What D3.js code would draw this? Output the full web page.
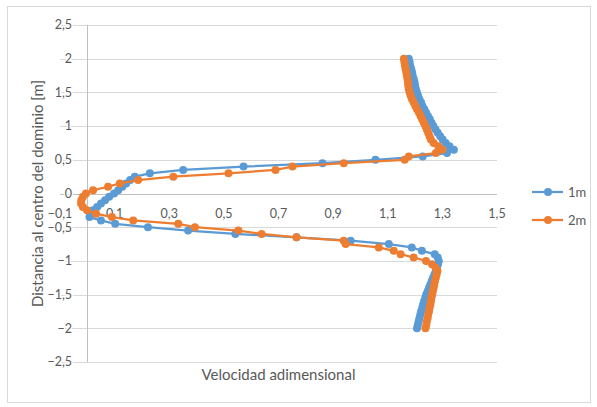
<!DOCTYPE html>
<html>
<head>
<meta charset="utf-8">
<script src="https://cdn.jsdelivr.net/npm/d3@7"></script>
<style>
  html, body { margin: 0; padding: 0; background: #fff; }
  svg { display: block; }
  text { font-family: Lato, "Open Sans", sans-serif; }
</style>
</head>
<body>
<svg id="chart" width="597" height="407"></svg>
<script>
// Vertical positions (m) shared by both profiles, from top to bottom
const positions = [
  2.00, 1.95, 1.90, 1.85, 1.80, 1.75, 1.70, 1.65, 1.60, 1.55,
  1.50, 1.45, 1.40, 1.35, 1.30, 1.25, 1.20, 1.15, 1.10, 1.05,
  1.00, 0.95, 0.90, 0.85, 0.80, 0.75, 0.70, 0.65, 0.60, 0.55,
  0.50, 0.45, 0.40, 0.35, 0.30, 0.25, 0.20, 0.15, 0.10, 0.05,
  0.00, -0.05, -0.10, -0.15, -0.20, -0.25, -0.30, -0.35, -0.40, -0.45,
  -0.50, -0.55, -0.60, -0.65, -0.70, -0.75, -0.80, -0.85, -0.90, -0.95,
  -1.00, -1.05, -1.10, -1.15, -1.20, -1.25, -1.30, -1.35, -1.40, -1.45,
  -1.50, -1.55, -1.60, -1.65, -1.70, -1.75, -1.80, -1.85, -1.90, -1.95,
  -2.00
];

// Dimensionless velocity, profile at 1 m
const vel1m = [
  1.177, 1.180, 1.182, 1.186, 1.189, 1.191, 1.195, 1.198, 1.200, 1.203,
  1.207, 1.211, 1.216, 1.222, 1.227, 1.234, 1.240, 1.247, 1.254, 1.260,
  1.267, 1.275, 1.283, 1.292, 1.301, 1.312, 1.326, 1.342, 1.317, 1.228,
  1.055, 0.861, 0.572, 0.351, 0.229, 0.174, 0.157, 0.142, 0.128, 0.113,
  0.098, 0.080, 0.065, 0.050, 0.036, 0.021, 0.012, 0.008, 0.050, 0.102,
  0.222, 0.369, 0.542, 0.766, 0.964, 1.104, 1.188, 1.225, 1.272, 1.283,
  1.287, 1.284, 1.280, 1.276, 1.271, 1.266, 1.261, 1.256, 1.251, 1.246,
  1.241, 1.237, 1.233, 1.229, 1.226, 1.222, 1.219, 1.216, 1.213, 1.210,
  1.207
];

// Dimensionless velocity, profile at 2 m
const vel2m = [
  1.159, 1.161, 1.163, 1.165, 1.168, 1.170, 1.172, 1.174, 1.175, 1.177,
  1.180, 1.184, 1.189, 1.195, 1.201, 1.207, 1.214, 1.220, 1.226, 1.232,
  1.238, 1.243, 1.248, 1.253, 1.258, 1.268, 1.285, 1.300, 1.276, 1.177,
  1.162, 0.939, 0.751, 0.689, 0.517, 0.315, 0.186, 0.119, 0.076, 0.021,
  -0.005, -0.016, -0.022, -0.023, -0.016, -0.001, 0.032, 0.090, 0.168, 0.333,
  0.394, 0.553, 0.638, 0.766, 0.939, 0.946, 1.067, 1.122, 1.147, 1.195,
  1.240, 1.262, 1.275, 1.282, 1.279, 1.276, 1.273, 1.270, 1.268, 1.265,
  1.263, 1.260, 1.258, 1.256, 1.253, 1.251, 1.248, 1.246, 1.243, 1.241,
  1.238
];

const seriesNames = ["1m", "2m"];
const seriesColors = ["#5B9BD5", "#ED7D31"];

const xTicks = [-0.1, 0.1, 0.3, 0.5, 0.7, 0.9, 1.1, 1.3, 1.5];
const yTicks = [-2.5, -2, -1.5, -1, -0.5, 0, 0.5, 1, 1.5, 2, 2.5];

const xTitle = "Velocidad adimensional";
const yTitle = "Distancia al centro del dominio [m]";

const svg = d3.select("#chart");

// Outer chart frame
svg.append("rect")
  .attr("x", 7.5).attr("y", 6.5)
  .attr("width", 583).attr("height", 396)
  .attr("fill", "#fff")
  .attr("stroke", "#d9d9d9").attr("stroke-width", 1);

const x = d3.scaleLinear().domain([-0.1, 1.5]).range([60, 497]);
const y = d3.scaleLinear().domain([-2.5, 2.5]).range([362, 25]);

const fmt = v => d3.format("")(+v.toFixed(1)).replace(".", ",");

// Horizontal gridlines
svg.append("g")
  .selectAll("line")
  .data(yTicks)
  .join("line")
  .attr("x1", x(-0.1)).attr("x2", x(1.5))
  .attr("y1", d => Math.round(y(d)) + 0.5)
  .attr("y2", d => Math.round(y(d)) + 0.5)
  .attr("stroke", "#d9d9d9").attr("stroke-width", 1);

// Axis lines crossing at the origin
svg.append("line")
  .attr("x1", x(-0.1)).attr("x2", x(1.5))
  .attr("y1", Math.round(y(0)) + 0.5).attr("y2", Math.round(y(0)) + 0.5)
  .attr("stroke", "#bfbfbf").attr("stroke-width", 1);
svg.append("line")
  .attr("x1", Math.round(x(0)) + 0.5).attr("x2", Math.round(x(0)) + 0.5)
  .attr("y1", y(2.5)).attr("y2", y(-2.5))
  .attr("stroke", "#bfbfbf").attr("stroke-width", 1);

// Y tick labels beside the vertical axis
svg.append("g")
  .selectAll("text")
  .data(yTicks)
  .join("text")
  .attr("x", 72)
  .attr("y", d => y(d))
  .attr("dy", "0.35em")
  .attr("text-anchor", "end")
  .attr("font-size", 12.5)
  .attr("fill", "#595959")
  .attr("stroke", "#fff").attr("stroke-width", 3)
  .attr("paint-order", "stroke")
  .text(fmt);

// X tick labels under the horizontal axis
svg.append("g")
  .selectAll("text")
  .data(xTicks)
  .join("text")
  .attr("x", d => x(d))
  .attr("y", y(0) + 20)
  .attr("dy", "0.35em")
  .attr("text-anchor", "middle")
  .attr("font-size", 12.5)
  .attr("fill", "#595959")
  .text(fmt);

// Axis titles
svg.append("text")
  .attr("x", (x(-0.1) + x(1.5)) / 2)
  .attr("y", 375)
  .attr("dy", "0.35em")
  .attr("text-anchor", "middle")
  .attr("font-size", 15)
  .attr("fill", "#595959")
  .text(xTitle);

svg.append("text")
  .attr("transform", `translate(38,${(y(2.5) + y(-2.5)) / 2}) rotate(-90)`)
  .attr("dy", "0.35em")
  .attr("text-anchor", "middle")
  .attr("font-size", 15)
  .attr("fill", "#595959")
  .text(yTitle);

// Profiles: line with circular markers
const series = [vel1m, vel2m].map((vals, i) => ({
  name: seriesNames[i],
  color: seriesColors[i],
  points: vals.map((v, j) => ({ v, pos: positions[j] }))
}));

const line = d3.line().x(d => x(d.v)).y(d => y(d.pos));

series.forEach(s => {
  const g = svg.append("g");
  g.append("path")
    .attr("d", line(s.points))
    .attr("fill", "none")
    .attr("stroke", s.color)
    .attr("stroke-width", 2.25)
    .attr("stroke-linejoin", "round");
  g.selectAll("circle")
    .data(s.points)
    .join("circle")
    .attr("cx", d => x(d.v))
    .attr("cy", d => y(d.pos))
    .attr("r", 4)
    .attr("fill", s.color);
});

// Legend
const legend = svg.append("g")
  .selectAll("g")
  .data(series)
  .join("g")
  .attr("transform", (d, i) => `translate(532,${192 + i * 28})`);
legend.append("line")
  .attr("x1", 0).attr("x2", 31)
  .attr("stroke", d => d.color).attr("stroke-width", 2.25);
legend.append("circle")
  .attr("cx", 16).attr("r", 4)
  .attr("fill", d => d.color);
legend.append("text")
  .attr("x", 36)
  .attr("dy", "0.35em")
  .attr("font-size", 13)
  .attr("fill", "#595959")
  .text(d => d.name);
</script>
</body>
</html>
